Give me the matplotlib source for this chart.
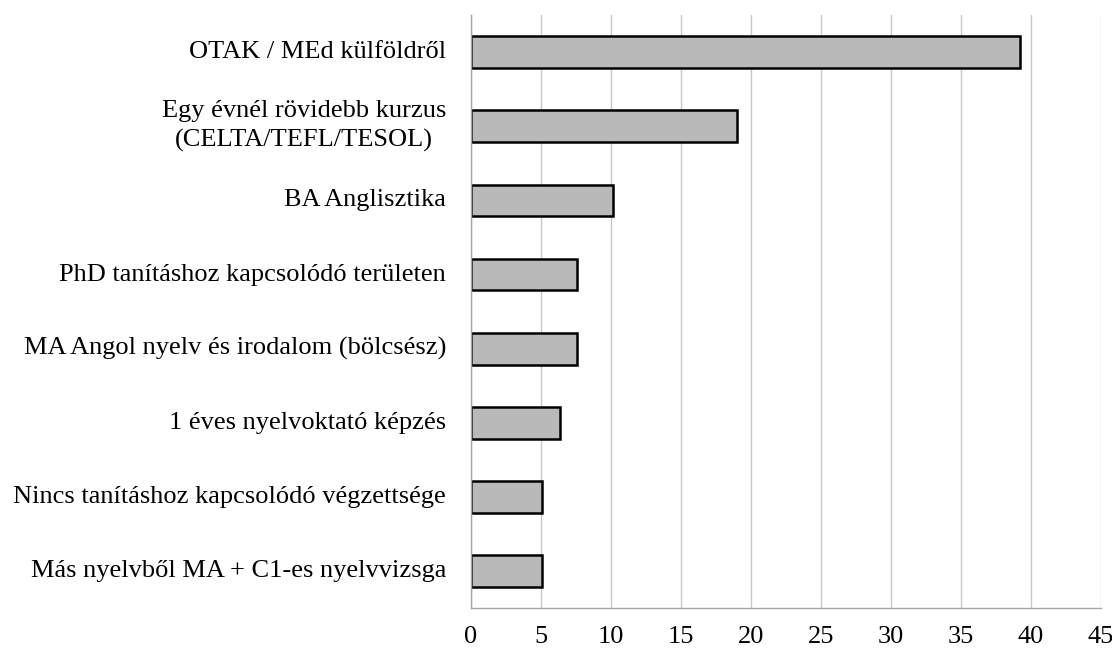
import matplotlib
matplotlib.use("Agg")
import matplotlib.pyplot as plt

categories = [
    "OTAK / MEd külföldről",
    "Egy évnél rövidebb kurzus\n(CELTA/TEFL/TESOL)",
    "BA Anglisztika",
    "PhD tanításhoz kapcsolódó területen",
    "MA Angol nyelv és irodalom (bölcsész)",
    "1 éves nyelvoktató képzés",
    "Nincs tanításhoz kapcsolódó végzettsége",
    "Más nyelvből MA + C1-es nyelvvizsga",
]
values = [39.24, 18.99, 10.13, 7.59, 7.59, 6.33, 5.06, 5.06]
xticks = [0, 5, 10, 15, 20, 25, 30, 35, 40, 45]

plt.rcParams['font.family'] = ['Liberation Serif', 'DejaVu Serif']

fig = plt.figure(figsize=(11.12, 6.5), dpi=100)
ax = fig.add_axes([0.4236, 0.0646, 0.5665, 0.912])

y = list(range(len(categories)))
ax.barh(y, values, height=0.43, color="#B9B9B9", edgecolor="black", linewidth=1.8, zorder=3)
ax.set_ylim(len(categories) - 0.5, -0.5)
ax.set_xlim(0, 45)
ax.set_xticks(xticks)
ax.set_xticklabels([str(t) for t in xticks])
ax.set_yticks(y)
ax.set_yticklabels(categories, multialignment="center", linespacing=1.4, va="center")

ax.grid(axis="x", color="#C8C8C8", linewidth=1.0, zorder=0)
ax.tick_params(axis="both", length=0, labelsize=19, colors="black")
ax.tick_params(axis="x", pad=13)
ax.tick_params(axis="y", pad=18)
for s in ["top", "right"]:
    ax.spines[s].set_visible(False)
for s in ["left", "bottom"]:
    ax.spines[s].set_color("#A6A6A6")
    ax.spines[s].set_linewidth(1.0)
    ax.spines[s].set_zorder(4)

fig.savefig("out.png", dpi=100)
